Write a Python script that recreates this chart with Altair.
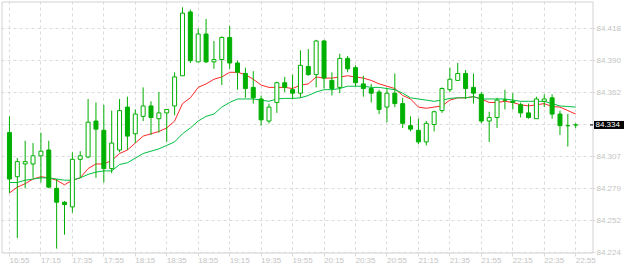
import altair as alt
import pandas as pd

# ---- data (5-minute candles, 16:55 .. 22:55) ----
opens = [84.327, 84.289, 84.300, 84.300, 84.307, 84.312, 84.279, 84.267, 84.263, 84.304,
         84.306, 84.337, 84.329, 84.296, 84.312, 84.349, 84.326, 84.341, 84.350, 84.339,
         84.344, 84.350, 84.376, 84.431, 84.388, 84.412, 84.388, 84.390, 84.409, 84.387,
         84.378, 84.366, 84.356, 84.337, 84.353, 84.370, 84.364, 84.361, 84.384, 84.377,
         84.406, 84.372, 84.366, 84.391, 84.383, 84.369, 84.365, 84.362, 84.349, 84.361,
         84.352, 84.333, 84.329, 84.319, 84.334, 84.346, 84.364, 84.372, 84.378, 84.366,
         84.360, 84.337, 84.340, 84.355, 84.354, 84.351, 84.344, 84.339, 84.354, 84.357,
         84.343, 84.333, 84.3336]
highs = [84.341, 84.305, 84.320, 84.318, 84.327, 84.320, 84.287, 84.268, 84.310, 84.311,
         84.356, 84.353, 84.351, 84.346, 84.356, 84.358, 84.347, 84.366, 84.354, 84.362,
         84.347, 84.379, 84.435, 84.433, 84.417, 84.425, 84.406, 84.410, 84.419, 84.389,
         84.383, 84.380, 84.359, 84.352, 84.371, 84.375, 84.377, 84.398, 84.399, 84.407,
         84.407, 84.379, 84.395, 84.393, 84.385, 84.376, 84.369, 84.364, 84.365, 84.378,
         84.357, 84.341, 84.339, 84.337, 84.346, 84.366, 84.383, 84.387, 84.381, 84.378,
         84.362, 84.345, 84.357, 84.364, 84.361, 84.353, 84.352, 84.358, 84.360, 84.360,
         84.346, 84.343, 84.335]
lows = [84.275, 84.236, 84.279, 84.288, 84.284, 84.279, 84.227, 84.239, 84.258, 84.288,
        84.305, 84.288, 84.284, 84.292, 84.310, 84.312, 84.318, 84.337, 84.325, 84.327,
        84.319, 84.342, 84.376, 84.387, 84.388, 84.387, 84.382, 84.368, 84.382, 84.364,
        84.357, 84.352, 84.333, 84.335, 84.344, 84.362, 84.356, 84.357, 84.376, 84.366,
        84.365, 84.359, 84.361, 84.379, 84.367, 84.358, 84.353, 84.343, 84.336, 84.349,
        84.331, 84.328, 84.317, 84.316, 84.328, 84.344, 84.362, 84.372, 84.356, 84.352,
        84.335, 84.319, 84.331, 84.347, 84.347, 84.340, 84.339, 84.339, 84.349, 84.339,
        84.325, 84.315, 84.331]
closes = [84.287, 84.302, 84.302, 84.307, 84.311, 84.280, 84.267, 84.265, 84.304, 84.307,
          84.336, 84.330, 84.296, 84.318, 84.346, 84.324, 84.343, 84.350, 84.340, 84.344,
          84.347, 84.375, 84.430, 84.389, 84.412, 84.388, 84.390, 84.409, 84.387, 84.379,
          84.365, 84.357, 84.338, 84.349, 84.370, 84.366, 84.361, 84.385, 84.377, 84.406,
          84.374, 84.365, 84.391, 84.382, 84.370, 84.365, 84.361, 84.347, 84.361, 84.352,
          84.335, 84.330, 84.319, 84.335, 84.345, 84.365, 84.373, 84.378, 84.365, 84.361,
          84.337, 84.340, 84.355, 84.355, 84.353, 84.344, 84.340, 84.356, 84.356, 84.343,
          84.333, 84.333, 84.3336]
ma_fast = [84.275, 84.280, 84.283, 84.287, 84.289, 84.288, 84.286, 84.282, 84.286, 84.288,
           84.296, 84.300, 84.300, 84.303, 84.309, 84.312, 84.318, 84.324, 84.326, 84.328,
           84.331, 84.337, 84.352, 84.357, 84.366, 84.369, 84.373, 84.375, 84.379, 84.379,
           84.377, 84.373, 84.368, 84.366, 84.366, 84.366, 84.365, 84.368, 84.369, 84.375,
           84.374, 84.374, 84.375, 84.376, 84.375, 84.374, 84.372, 84.369, 84.367, 84.365,
           84.359, 84.356, 84.349, 84.348, 84.349, 84.350, 84.355, 84.357, 84.357, 84.358,
           84.356, 84.353, 84.353, 84.354, 84.353, 84.351, 84.350, 84.351, 84.352, 84.3495,
           84.349, 84.346, 84.343]
ma_slow = [84.284, 84.284, 84.286, 84.287, 84.288, 84.288, 84.287, 84.286, 84.286, 84.288,
           84.291, 84.293, 84.294, 84.294, 84.2995, 84.301, 84.305, 84.309, 84.311, 84.313,
           84.316, 84.319, 84.326, 84.331, 84.337, 84.341, 84.343, 84.349, 84.353, 84.356,
           84.356, 84.356, 84.355, 84.354, 84.356, 84.3565, 84.3565, 84.357, 84.359, 84.362,
           84.364, 84.364, 84.365, 84.367, 84.367, 84.367, 84.366, 84.366, 84.365, 84.364,
           84.361, 84.357, 84.356, 84.355, 84.354, 84.355, 84.3565, 84.357, 84.357, 84.358,
           84.356, 84.356, 84.356, 84.356, 84.355, 84.354, 84.354, 84.354, 84.354, 84.352,
           84.350, 84.3495, 84.349]
time_labels = ["16:55", "17:15", "17:35", "17:55", "18:15", "18:35", "18:55", "19:15",
               "19:35", "19:55", "20:15", "20:35", "20:55", "21:15", "21:35", "21:55",
               "22:15", "22:35", "22:55"]
price_labels = ["84.224", "84.252", "84.279", "84.307", "84.334", "84.362", "84.390", "84.418"]

n = len(opens)
df = pd.DataFrame({
    "i": list(range(n)),
    "open": opens, "high": highs, "low": lows, "close": closes,
    "ma_fast": ma_fast, "ma_slow": ma_slow,
})
last = df.tail(1)

# ---- styling ----
CANDLE = "#00b000"
RED = "#ff2626"
MAGREEN = "#00c040"
GRID = "#dadada"
TXT = "#c4c4c4"
FONT = "Liberation Sans"
FS = 8

ref_price = 84.334
unit = 0.000862          # price per pixel
step = 32 * unit
y_ticks = [ref_price + k * step for k in range(-4, 4)]
y_domain = [ref_price - 128 * unit, ref_price + 123 * unit]
x_domain = [-0.375, 73.5]

cur_label = "{:.3f}".format(closes[-1])
ylab_js = "[" + ",".join("'" + ("" if s == cur_label else s) + "'" for s in price_labels) + "]"
xlab_js = "[" + ",".join("'" + s + "'" for s in time_labels) + "]"

x_axis = alt.Axis(values=list(range(0, n, 4)),
                  labelExpr=xlab_js + "[round(datum.value/4)]",
                  grid=True, gridDash=[3, 3], gridColor=GRID, gridWidth=1,
                  domain=False, ticks=True, tickSize=4, tickColor=GRID,
                  labelColor=TXT, labelFont=FONT, labelFontSize=FS,
                  labelAlign="left", labelBaseline="top", labelPadding=0,
                  labelFlush=False, labelOverlap=False, labelBound=False,
                  translate=0, title=None)
y_axis = alt.Axis(orient="right", values=y_ticks,
                  labelExpr=ylab_js + "[round((datum.value-" + repr(y_ticks[0]) + ")/" + repr(step) + ")]",
                  grid=True, gridDash=[3, 3], gridColor=GRID, gridWidth=1,
                  domain=False, ticks=True, tickSize=3, tickColor=GRID,
                  labelColor=TXT, labelFont=FONT, labelFontSize=FS,
                  labelAlign="left", labelBaseline="middle", labelPadding=1,
                  labelFlush=False, labelOverlap=False, labelBound=False,
                  translate=0, title=None)

xs = alt.Scale(domain=x_domain, nice=False, zero=False)
ys = alt.Scale(domain=y_domain, nice=False, zero=False)


def X():
    return alt.X("i:Q", scale=xs, axis=x_axis)


def Y(f):
    return alt.Y(f + ":Q", scale=ys, axis=y_axis)


base = alt.Chart(df)

fast = base.mark_line(color=RED, strokeWidth=1).encode(x=X(), y=Y("ma_fast"))
slow = base.mark_line(color=MAGREEN, strokeWidth=1).encode(x=X(), y=Y("ma_slow"))

wicks = base.mark_rule(color=CANDLE, strokeWidth=1).encode(
    x=X(), y=Y("low"), y2="high:Q")

bodies = base.mark_bar(size=4, stroke=CANDLE, strokeWidth=1).encode(
    x=X(), y=Y("open"), y2="close:Q",
    fill=alt.when("datum.close < datum.open").then(alt.value(CANDLE)).otherwise(alt.value("white")),
)

cur_dash = alt.Chart(last).mark_rule(color="black", strokeWidth=1).encode(
    x=alt.value(588.5), x2=alt.value(591.5), y=Y("close"))
cur_box = alt.Chart(last).mark_tick(orient="horizontal", size=30, thickness=8,
                                   color="black", opacity=1).encode(
    x=alt.value(607.5), y=Y("close"))
cur_text = alt.Chart(last).mark_text(color="white", font=FONT, fontSize=FS,
                                     align="left", baseline="middle").encode(
    x=alt.value(594), y=Y("close"), text=alt.Text("close:Q", format=".3f"))

chart = alt.layer(fast, slow, wicks, bodies, cur_dash, cur_box, cur_text).properties(
    width=591, height=251,
    autosize=alt.AutoSizeParams(type="none"),
    padding={"left": 1.5, "top": 1.5, "right": 31.5, "bottom": 13.5},
    background="white",
).configure_view(stroke="#d2d2d2", strokeWidth=1)

chart.save("out.html", embed_options={"renderer": "svg", "actions": False})
